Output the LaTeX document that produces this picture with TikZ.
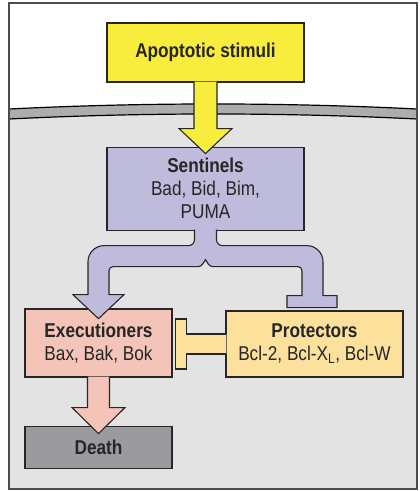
\documentclass[tikz,border=0pt]{standalone}
\usepackage{fontspec}
\setmainfont[FakeStretch=0.86]{Liberation Sans}
\usetikzlibrary{positioning}
\definecolor{stimyellow}{HTML}{F8EC3C}
\definecolor{sentpurple}{HTML}{BEBBDC}
\definecolor{execpink}{HTML}{F3C4B7}
\definecolor{protyellow}{HTML}{FBE19C}
\definecolor{deathgray}{HTML}{9B9B9F}
\definecolor{cellgray}{HTML}{E3E3E3}
\definecolor{membgray}{HTML}{ADADB1}

\begin{document}
\begin{tikzpicture}[x=1pt, y=-1pt,
    box/.style={draw=black!85, line width=1.1pt, inner sep=0pt, align=center,
                font=\fontsize{20}{23}\selectfont, text=black!85},
    fat/.style={draw=black!85, line width=1.1pt, line join=miter}]
  \useasboundingbox (0,0) rectangle (420,491);
  % cell and membrane
  \fill[white] (9,3) rectangle (417,489);
  \fill[cellgray] (9,119) .. controls (145,112.3) and (281,112.3) .. (417,119)
    -- (417,489) -- (9,489) -- cycle;
  \fill[membgray] (9,109) .. controls (145,102.3) and (281,102.3) .. (417,109)
    -- (417,119) .. controls (281,112.3) and (145,112.3) .. (9,119) -- cycle;
  \draw[line width=1.2pt] (9,109) .. controls (145,102.3) and (281,102.3) .. (417,109);
  \draw[line width=1.2pt] (9,119) .. controls (145,112.3) and (281,112.3) .. (417,119);
  \draw[line width=1.2pt, black!70] (9,3) rectangle (417,489);

  \node[box, fill=stimyellow, minimum width=197pt, minimum height=59pt] (stim) at (205.5,52.5) {\textbf{Apoptotic stimuli}};
  \node[box, fill=sentpurple, minimum width=197pt, minimum height=83pt, below=64pt of stim] (sent) {\textbf{Sentinels}\\Bad, Bid, Bim,\\PUMA};
  \node[box, fill=execpink, minimum width=147pt, minimum height=68pt] (exec) at (98.5,343) {\textbf{Executioners}\\Bax, Bak, Bok};
  \node[box, fill=protyellow, minimum width=177pt, minimum height=66pt] (prot) at (314.5,344) {\textbf{Protectors}\\Bcl-2, Bcl-X\textsubscript{L}, Bcl-W};
  \node[box, fill=deathgray, minimum width=147pt, minimum height=42pt, below=48pt of exec] (death) {\textbf{Death}};

  % stimuli -> sentinels
  \draw[fat, fill=stimyellow] ([xshift=-11.5pt,yshift=1pt]stim.south) -- ++(0,47) -- ++(-15,0)
    -- ++(26.5,25) -- ++(26.5,-25) -- ++(-15,0) -- ++(0,-47);
  % sentinels -> executioners / protectors
  \draw[fat, fill=sentpurple] ([xshift=-11pt,yshift=1pt]sent.south) -- ++(0,10)
    .. controls +(0,3.3) and +(3.3,0) .. ++(-6,6) -- ++(-84.5,0)
    .. controls +(-8.8,0) and +(0,-8.8) .. ++(-16,16) -- ++(0,33)
    -- ++(-15,0) -- ++(25.5,24) -- ++(25.5,-24) -- ++(-15,0) -- ++(0,-24)
    .. controls +(0,-2.2) and +(-2.2,0) .. ++(4,-4) -- ++(85,0)
    .. controls +(4,0) and +(-2,3) .. ++(7.5,-7)
    .. controls +(2,3) and +(-4,0) .. ++(7.5,7) -- ++(85,0)
    .. controls +(2.2,0) and +(0,-2.2) .. ++(4,4) -- ++(0,25)
    -- ++(-15,0) -- ++(0,12) -- ++(50,0) -- ++(0,-12) -- ++(-14,0) -- ++(0,-34)
    .. controls +(0,-8.8) and +(8.8,0) .. ++(-16,-16) -- ++(-84.5,0)
    .. controls +(-3.3,0) and +(0,3.3) .. ++(-6,-6) -- ++(0,-10);
  % protectors -| executioners
  \draw[fat, fill=protyellow] ([xshift=1pt,yshift=10pt]prot.west) -- ++(-40,0) -- ++(0,-15)
    -- ++(-11,0) -- ++(0,50) -- ++(11,0) -- ++(0,-15) -- ++(40,0);
  % executioners -> death
  \draw[fat, fill=execpink] ([xshift=-11pt,yshift=1pt]exec.south) -- ++(0,31) -- ++(-15.5,0)
    -- ++(26.5,26) -- ++(26.5,-26) -- ++(-15.5,0) -- ++(0,-31);
\end{tikzpicture}
\end{document}
